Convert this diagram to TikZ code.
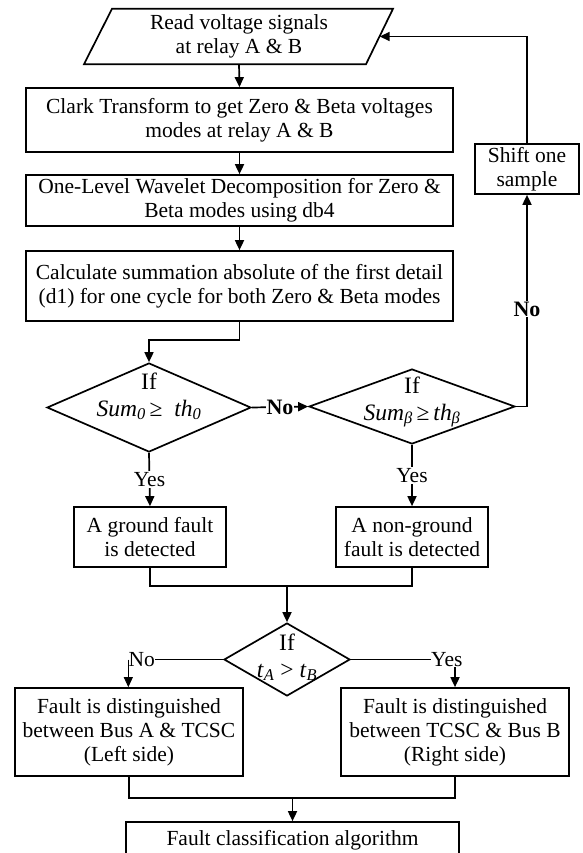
\documentclass[tikz,border=0pt]{standalone}
\usepackage{fontspec}
\setmainfont{Liberation Serif}
\usetikzlibrary{shapes.geometric, arrows.meta}
\newcommand{\dtext}[2]{\smash{\makebox[0pt]{\raisebox{#1}{\begin{tabular}{@{}c@{}}#2\end{tabular}}}}}
\begin{document}
\begin{tikzpicture}[x=1pt,y=-1pt,
  every node/.style={inner sep=0pt},
  ln/.style={line width=1.7pt},
  arr/.style={ln, -{Triangle[length=10pt,width=9pt]}},
  box/.style={draw, ln, align=center, font={\fontsize{21.5}{24}\selectfont}},
  dia/.style={draw, ln, diamond, font={\fontsize{23.5}{27}\selectfont}},
  lab/.style={font={\fontsize{21.5}{24}\selectfont}},
  blab/.style={font={\fontsize{22}{24}\selectfont\bfseries}, fill=white, inner sep=1pt},
  ylab/.style={font={\fontsize{21.5}{24}\selectfont}, fill=white, inner sep=1pt},
]
\useasboundingbox (0,0) rectangle (582,853);

% input parallelogram
\node[align=center, font={\fontsize{21.5}{24}\selectfont}, minimum width=281, minimum height=55] (read) at (239,36.5) {Read voltage signals\\at relay A \& B};
\draw[ln, line join=miter] ([xshift=-127pt]read.north) -- ([xshift=154pt]read.north) -- ([xshift=127pt]read.south) -- ([xshift=-155pt]read.south) -- cycle;

% process boxes
\node[box, minimum width=427, minimum height=64] (clark) at (239.5,120) {Clark Transform to get Zero \& Beta voltages\\modes at relay A \& B};
\node[box, minimum width=427, minimum height=51] (wave) at (239.5,200.5) {One-Level Wavelet Decomposition for Zero \&\\Beta modes using db4};
\node[box, minimum width=427, minimum height=70] (calc) at (239.5,286) {Calculate summation absolute of the first detail\\(d1) for one cycle for both Zero \& Beta modes};
\node[box, minimum width=104, minimum height=50] (shift) at (527,169) {Shift one\\sample};

% decisions
\node[dia, minimum width=204, minimum height=89] (d1) at (149,407.5) {\dtext{4pt}{If\\ \textit{Sum}\textsubscript{\textit{0}}\,≥\ \ \textit{th}\textsubscript{\textit{0}}}};
\node[dia, minimum width=206, minimum height=75] (d2) at (412,406.5) {\dtext{-1pt}{If\\ \textit{Sum}\textsubscript{\textit{β}}\,≥\,\textit{th}\textsubscript{\textit{β}}}};

\node[box, minimum width=152, minimum height=60] (ground) at (150,537) {A ground fault\\is detected};
\node[box, minimum width=152, minimum height=60] (nonground) at (412,537) {A non-ground\\fault is detected};

\node[dia, minimum width=126, minimum height=73] (d3) at (287,659.5) {\dtext{-5pt}{If\\ \textit{t}\textsubscript{\textit{A}} > \textit{t}\textsubscript{\textit{B}}}};

\node[box, minimum width=228, minimum height=88] (lbox) at (129,732) {Fault is distinguished\\between Bus A \& TCSC\\(Left side)};
\node[box, minimum width=228, minimum height=88] (rbox) at (455,732) {Fault is distinguished\\between TCSC \& Bus B\\(Right side)};
\node[box, minimum width=333, minimum height=36] (final) at (292.5,840) {Fault classification algorithm};

% branch labels of the last decision
\node[lab, anchor=east] (noL) at (155,659.5) {No};
\node[lab, anchor=west] (yesR) at (431,659.5) {Yes};

% connectors
\draw[arr] (read.south) -- (clark.north);
\draw[arr] (clark.south) -- (wave.north);
\draw[arr] (wave.south) -- (calc.north);
\draw[arr] (calc.south) -- ++(0,18) -| (d1.north);
\draw[arr] (d1.east) -- node[blab] {No} (d2.west);
\draw[arr] (d2.east) -| node[blab, pos=0.73] {No} (shift.south);
\draw[arr] (shift.north) |- (read.east);
\draw[arr] (d1.south) -- node[ylab] {Yes} (ground.north);
\draw[arr] (d2.south) -- node[ylab] {Yes} (nonground.north);

\coordinate (j1) at (287,586);
\draw[ln] (ground.south) |- (j1);
\draw[ln] (nonground.south) |- (j1);
\draw[arr] (j1) -- (d3.north);

\draw[ln] (d3.west) -- (noL.east);
\draw[ln] (d3.east) -- (yesR.west);
\draw[line width=0.8pt, -{Triangle[length=10pt,width=9pt]}] (noL.west) -- (noL.west |- lbox.north);
\draw[arr] (yesR.south -| rbox.north) -- (rbox.north);

\coordinate (j2) at (292.5,798);
\draw[ln] (lbox.south) |- (j2);
\draw[ln] (rbox.south) |- (j2);
\draw[arr] (j2) -- (final.north);
\end{tikzpicture}
\end{document}
